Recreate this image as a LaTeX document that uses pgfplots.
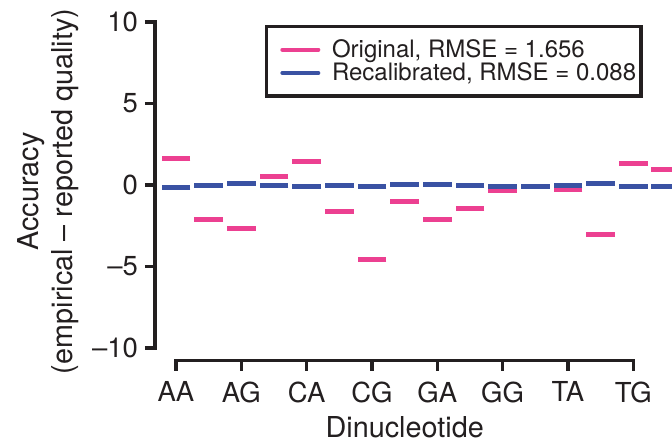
\documentclass[border=0pt]{standalone}
\usepackage{pgfplots}
\usepackage{pgfplotstable}
\pgfplotsset{compat=1.18}
\usepackage{fontspec}
\setmainfont{TeX Gyre Heros}
\definecolor{pinkc}{RGB}{236,64,145}
\definecolor{bluec}{RGB}{58,82,163}
\definecolor{axc}{RGB}{35,31,32}

% x: 0=AA,1=AC,2=AG,3=AT,4=CA,5=CC,6=CG,7=CT,8=GA,9=GC,10=GG,11=GT,12=TA,13=TC,14=TG,15=TT
\pgfplotstableread{
x  orig   recal
0   1.61  -0.17
1  -2.13  -0.02
2  -2.68   0.12
3   0.55  -0.02
4   1.47  -0.08
5  -1.60  -0.02
6  -4.60  -0.08
7  -1.02   0.06
8  -2.13   0.06
9  -1.43  -0.02
10 -0.35  -0.12
11 -0.10  -0.08
12 -0.25  -0.02
13 -3.02   0.12
14  1.33  -0.08
15  0.98  -0.08
}\dinuc

\begin{document}
\begin{tikzpicture}
\begin{axis}[
  name=ax,
  x=16.33pt, y=8.15pt,
  xmin=-0.643, xmax=15.187, ymin=-10.78, ymax=10,
  axis x line*=bottom, axis y line*=left,
  axis line style={draw=none},
  clip mode=individual,
  tick align=outside,
  major tick length=5pt,
  every tick/.style={axc, line width=1.65pt},
  xtick={0,2,...,14},
  xticklabels={AA,AG,CA,CG,GA,GG,TA,TG},
  ytick={-10,-5,0,5,10},
  yticklabels={--10,--5,0,5,10},
  /pgf/number format/assume math mode=true,
  tick label style={font=\fontsize{13.75pt}{16pt}\selectfont, text=axc},
  xticklabel style={yshift=-2pt},
  xlabel={Dinucleotide},
  ylabel={Accuracy\\(empirical -- reported quality)},
  label style={font=\fontsize{14.4pt}{16.7pt}\selectfont, text=axc},
  ylabel style={align=center},
  xlabel style={at={(ticklabel cs:0.483)}, inner sep=1pt, yshift=-2.3pt},
  legend style={at={(axis cs:2.716,9.82)}, anchor=north west, draw=axc,
    line width=1.65pt, inner xsep=2.5pt, inner ysep=5.65pt,
    font=\fontsize{12pt}{14pt}\selectfont, text=axc,
    nodes={inner sep=0pt, text height=9.85pt, text depth=1.85pt},
    column sep=5.85pt, row sep=0pt},
  legend cell align=left,
]
\addlegendimage{pinkc, line width=2pt, line cap=round,
  legend image code/.code={\path (0pt,0pt); \draw (4.5pt,0pt) -- (22.5pt,0pt);}}
\addlegendentry{Original, RMSE = 1.656}
\addlegendimage{bluec, line width=2pt, line cap=round,
  legend image code/.code={\path (0pt,0pt); \draw (4.5pt,0pt) -- (22.5pt,0pt);}}
\addlegendentry{Recalibrated, RMSE = 0.088}

\addplot[only marks, mark=-, mark size=7.2pt, color=pinkc,
  mark options={line width=2.5pt}, forget plot] table[x=x, y=orig] {\dinuc};
\addplot[only marks, mark=-, mark size=7.2pt, color=bluec,
  mark options={line width=2.5pt}, forget plot] table[x=x, y=recal] {\dinuc};

\draw[axc, line width=1.65pt, line cap=rect] (axis cs:-0.643,-10) -- (axis cs:-0.643,10);
\draw[axc, line width=1.65pt, line cap=rect] (axis cs:0,-10.78) -- (axis cs:14,-10.78);
\end{axis}
\pgfresetboundingbox
\path[use as bounding box] ([xshift=-77.5pt,yshift=-41.15pt]ax.south west) rectangle ([yshift=11pt]ax.north east);
\end{tikzpicture}
\end{document}
